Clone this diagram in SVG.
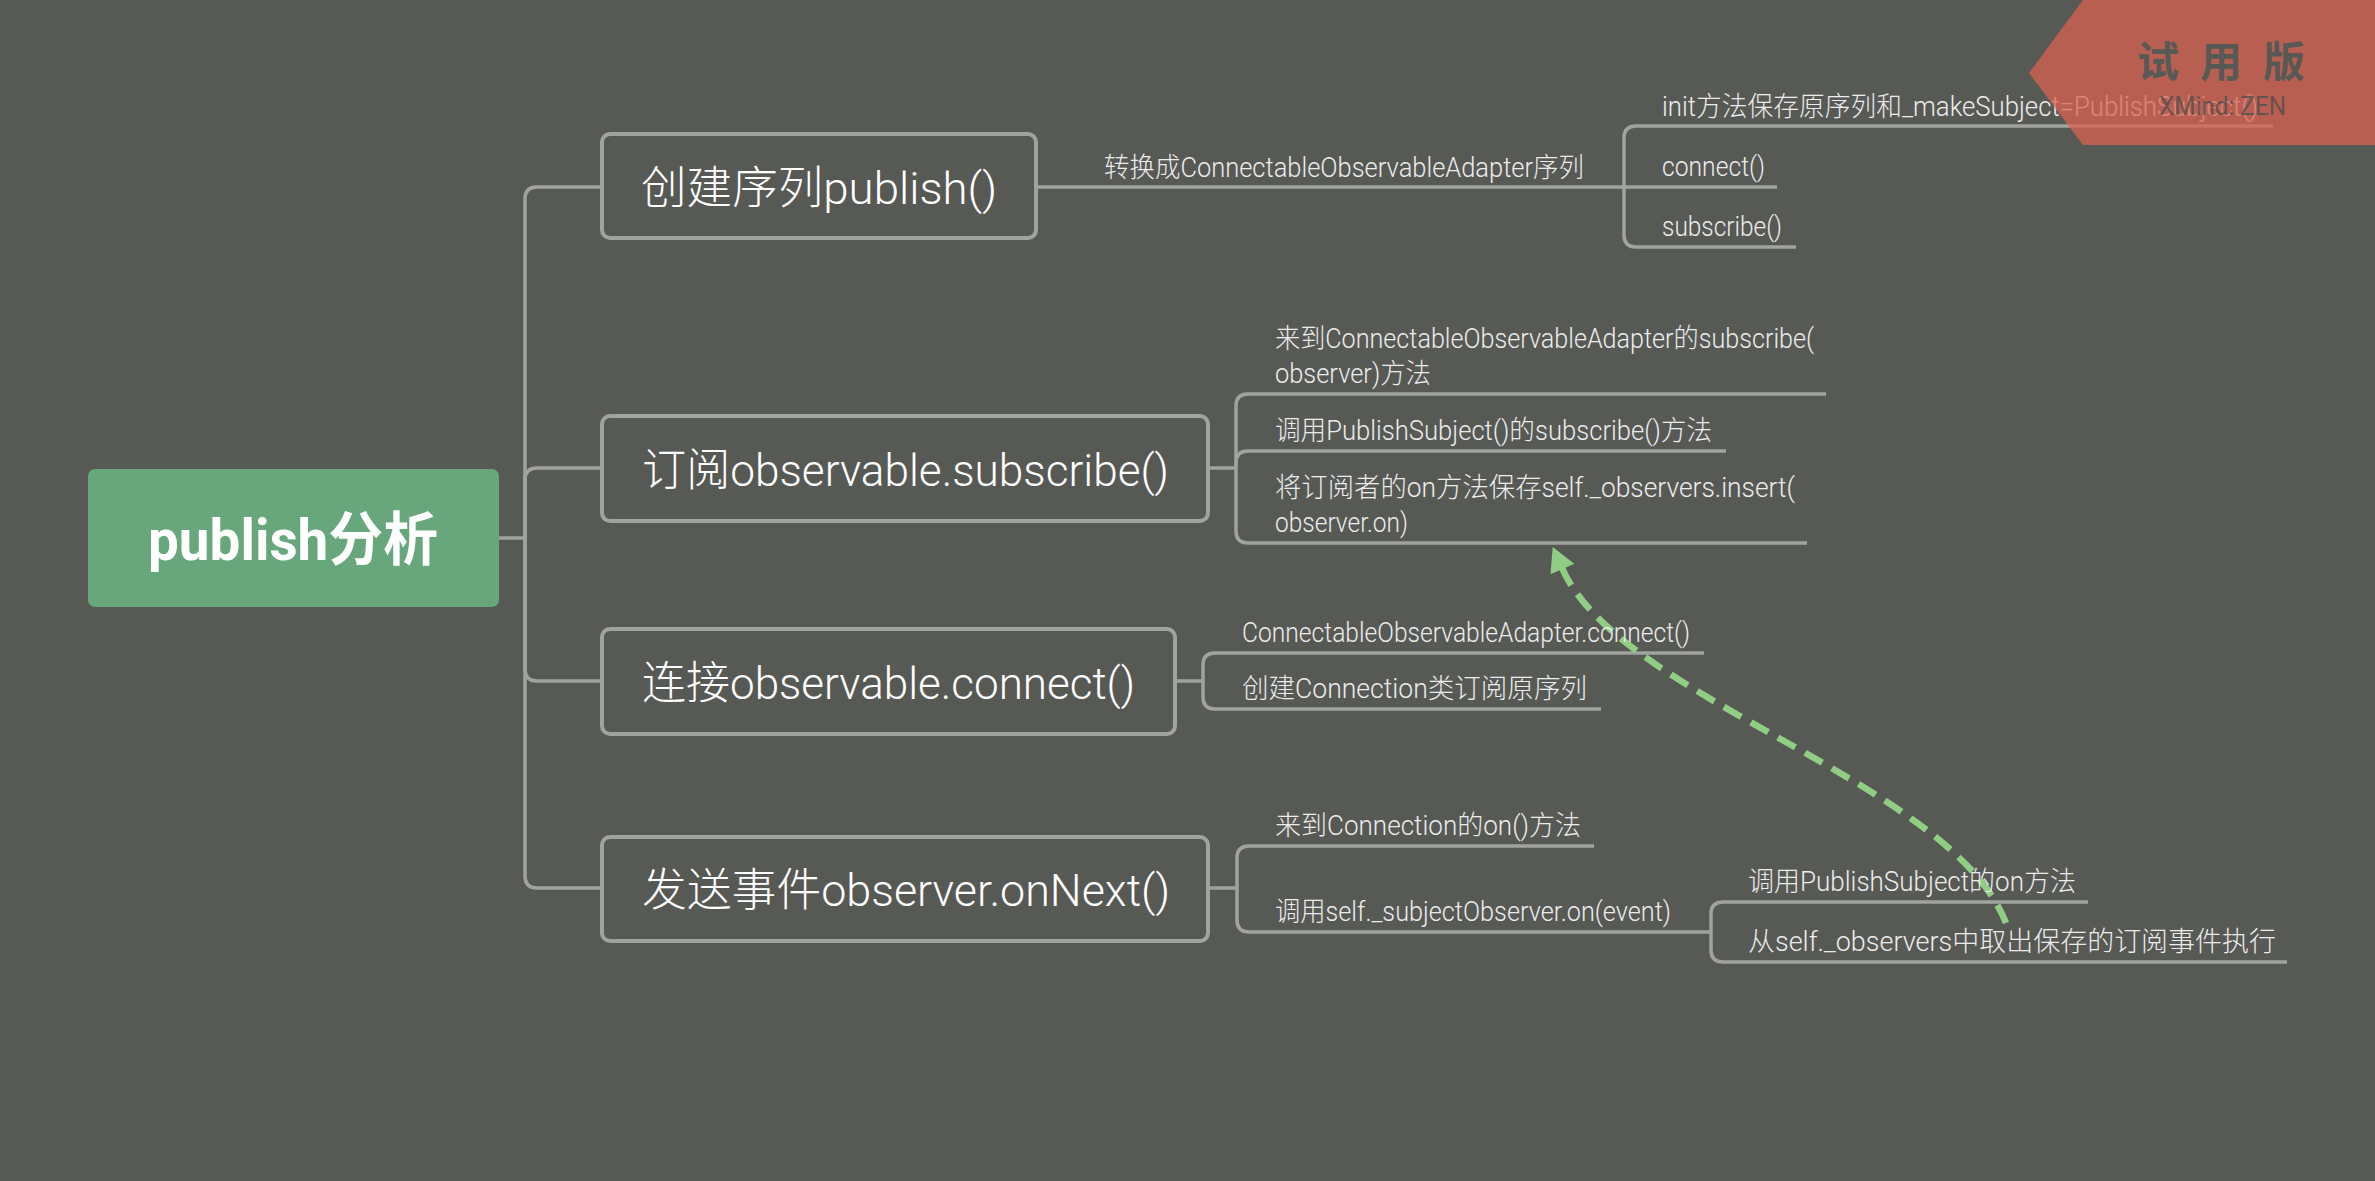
<svg xmlns="http://www.w3.org/2000/svg" width="2375" height="1181" viewBox="0 0 2375 1181">
<style>
text{font-family:Roboto,"Noto Sans CJK SC",sans-serif}
.main{font-size:45px;font-weight:300;fill:#FFFFFF}
.sub{font-size:27px;font-weight:300;fill:#ECECEC}
.box{fill:#575955;stroke:#A0A39E;stroke-width:4}
.ln{fill:none;stroke:#A0A39E;stroke-width:3.5}
.rel{fill:none;stroke:#8FCE83;stroke-width:6.5;stroke-dasharray:20 11}
</style>
<defs>
<marker id="ah" markerUnits="userSpaceOnUse" markerWidth="26" markerHeight="26" viewBox="0 0 24 26" refX="1" refY="13" orient="auto">
<path d="M0,0 L24,13 L0,26 Z" fill="#8FCE83"/>
</marker>
</defs>
<rect x="0" y="0" width="2375" height="1181" fill="#575955"/>
<g id="connectors">
<path class="ln" d="M498,538 H525"/>
<path class="ln" d="M525,538 V199 Q525,187 537,187 H601"/>
<path class="ln" d="M525,538 V480 Q525,468 537,468 H601"/>
<path class="ln" d="M525,538 V669 Q525,681 537,681 H601"/>
<path class="ln" d="M525,538 V876 Q525,888 537,888 H601"/>
<path class="ln" d="M1038,187 H1624"/>
<path class="ln" d="M1624,187 V138 Q1624,126 1636,126 H2273"/>
<path class="ln" d="M1624,187 H1777"/>
<path class="ln" d="M1624,187 V235 Q1624,247 1636,247 H1796"/>
<path class="ln" d="M1209,468 H1236"/>
<path class="ln" d="M1236,468 V406 Q1236,394 1248,394 H1826"/>
<path class="ln" d="M1236,468 V463 Q1236,451 1248,451 H1726"/>
<path class="ln" d="M1236,468 V531 Q1236,543 1248,543 H1807"/>
<path class="ln" d="M1177,681 H1203"/>
<path class="ln" d="M1203,681 V665 Q1203,653 1215,653 H1704"/>
<path class="ln" d="M1203,681 V697 Q1203,709 1215,709 H1601"/>
<path class="ln" d="M1209,888 H1237"/>
<path class="ln" d="M1237,888 V858 Q1237,846 1249,846 H1594"/>
<path class="ln" d="M1237,888 V920 Q1237,932 1249,932 H1711"/>
<path class="ln" d="M1711,932 V914 Q1711,902 1723,902 H2088"/>
<path class="ln" d="M1711,932 V950 Q1711,962 1723,962 H2287"/>
<path class="rel" d="M2006,923 C1950,780 1620,700 1562,568" marker-end="url(#ah)"/>
</g>
<g id="root">
<rect x="88" y="469" width="411" height="138" rx="7" fill="#68A67C"/>
<text x="148" y="560" font-size="58" font-weight="bold" fill="#FFFFFF" textLength="290" lengthAdjust="spacingAndGlyphs">publish分析</text>
</g>
<g id="n1">
<rect class="box" x="602" y="134" width="434" height="104" rx="8"/>
<text class="main" x="641" y="204" textLength="356" lengthAdjust="spacingAndGlyphs">创建序列publish()</text>
</g>
<g id="n1a">
<text class="sub" x="1104" y="177" textLength="480" lengthAdjust="spacingAndGlyphs">转换成ConnectableObservableAdapter序列</text>
</g>
<g id="n1a1"><text class="sub" x="1662" y="116" textLength="596" lengthAdjust="spacingAndGlyphs">init方法保存原序列和_makeSubject=PublishSubject()</text></g>
<g id="n1a2"><text class="sub" x="1662" y="176" textLength="103" lengthAdjust="spacingAndGlyphs">connect()</text></g>
<g id="n1a3"><text class="sub" x="1662" y="236" textLength="120" lengthAdjust="spacingAndGlyphs">subscribe()</text></g>
<g id="n2">
<rect class="box" x="602" y="416" width="606" height="105" rx="8"/>
<text class="main" x="642" y="486" textLength="527" lengthAdjust="spacingAndGlyphs">订阅observable.subscribe()</text>
</g>
<g id="n2a">
<text class="sub" x="1275" y="348" textLength="539" lengthAdjust="spacingAndGlyphs">来到ConnectableObservableAdapter的subscribe(</text>
<text class="sub" x="1275" y="383" textLength="156" lengthAdjust="spacingAndGlyphs">observer)方法</text>
</g>
<g id="n2b"><text class="sub" x="1275" y="440" textLength="437" lengthAdjust="spacingAndGlyphs">调用PublishSubject()的subscribe()方法</text></g>
<g id="n2c">
<text class="sub" x="1275" y="497" textLength="520" lengthAdjust="spacingAndGlyphs">将订阅者的on方法保存self._observers.insert(</text>
<text class="sub" x="1275" y="532" textLength="133" lengthAdjust="spacingAndGlyphs">observer.on)</text>
</g>
<g id="n3">
<rect class="box" x="602" y="629" width="573" height="105" rx="8"/>
<text class="main" x="642" y="699" textLength="493" lengthAdjust="spacingAndGlyphs">连接observable.connect()</text>
</g>
<g id="n3a"><text class="sub" x="1242" y="642" textLength="448" lengthAdjust="spacingAndGlyphs">ConnectableObservableAdapter.connect()</text></g>
<g id="n3b"><text class="sub" x="1242" y="698" textLength="345" lengthAdjust="spacingAndGlyphs">创建Connection类订阅原序列</text></g>
<g id="n4">
<rect class="box" x="602" y="837" width="606" height="104" rx="8"/>
<text class="main" x="642" y="906" textLength="528" lengthAdjust="spacingAndGlyphs">发送事件observer.onNext()</text>
</g>
<g id="n4a"><text class="sub" x="1275" y="835" textLength="306" lengthAdjust="spacingAndGlyphs">来到Connection的on()方法</text></g>
<g id="n4b"><text class="sub" x="1275" y="921" textLength="396" lengthAdjust="spacingAndGlyphs">调用self._subjectObserver.on(event)</text></g>
<g id="n4b1"><text class="sub" x="1748" y="891" textLength="328" lengthAdjust="spacingAndGlyphs">调用PublishSubject的on方法</text></g>
<g id="n4b2"><text class="sub" x="1748" y="951" textLength="528" lengthAdjust="spacingAndGlyphs">从self._observers中取出保存的订阅事件执行</text></g>
<g id="watermark">
<polygon points="2029,73 2083,0 2375,0 2375,145 2083,145" fill="#DA6251" fill-opacity="0.75"/>
<text x="2137" y="77" font-size="42" font-weight="bold" fill="#575955" letter-spacing="21">试用版</text>
<text x="2159" y="115" font-size="25" fill="#4E4E4C" fill-opacity="0.8" textLength="127" lengthAdjust="spacingAndGlyphs">XMind: ZEN</text>
</g>
</svg>
